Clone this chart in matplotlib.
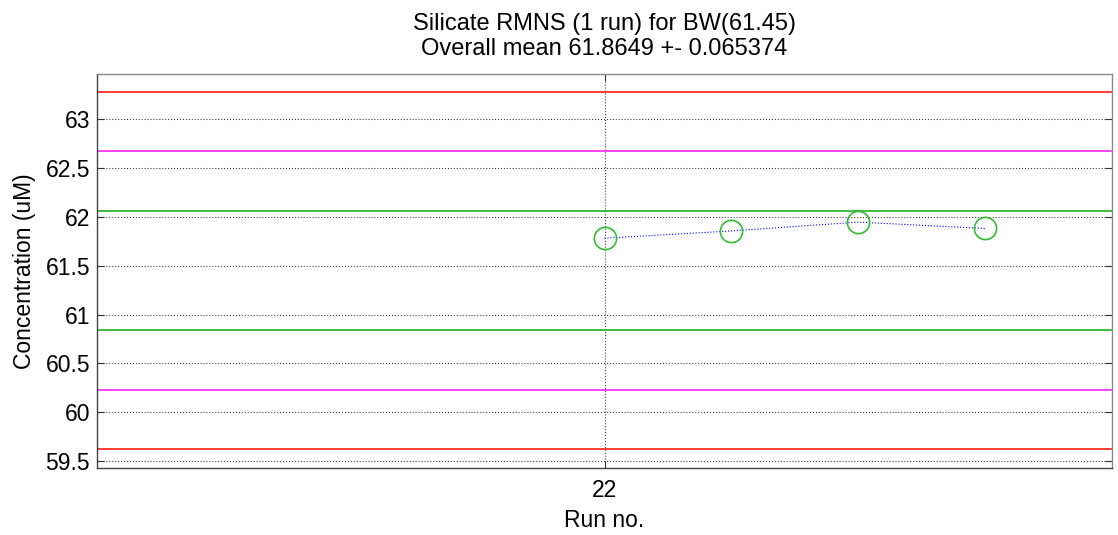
import matplotlib
matplotlib.use("Agg")
import matplotlib.pyplot as plt

plt.rcParams['font.family'] = ['Liberation Sans', 'DejaVu Sans']

# Sample positions within run 22 and measured silicate concentrations
run_positions = [22.0, 22.25, 22.5, 22.75]
concentrations = [61.78, 61.855, 61.945, 61.88]

# Reference value and control limits
reference = 61.45
limit_offsets = [0.61, 1.22, 1.83]
limit_colors = ['#2db82d', '#ff33ff', '#ff2a2a']

y_ticks = [59.5, 60, 60.5, 61, 61.5, 62, 62.5, 63]
x_ticks = [22]

FS = 16.5

fig = plt.figure(figsize=(11.18, 5.35), dpi=100)
ax = fig.add_axes([0.0868, 0.1252, 0.9078, 0.7365])

for off, col in zip(limit_offsets, limit_colors):
    ax.axhline(reference + off, color=col, lw=1.3, zorder=2)
    ax.axhline(reference - off, color=col, lw=1.3, zorder=2)

ax.plot(run_positions, concentrations, color='blue', ls=':', lw=0.8, zorder=3)
ax.plot(run_positions, concentrations, ls='none', marker='o', ms=16,
        mfc='none', mec='#33bb33', mew=1.2, zorder=4)

ax.set_xlim(21, 23)
ax.set_ylim(59.43, 63.46)
ax.set_yticks(y_ticks)
ax.set_yticklabels([f"{v:g}" for v in y_ticks])
ax.set_xticks(x_ticks)
ax.set_xticklabels([str(v) for v in x_ticks])

ax.grid(True, color='black', ls=':', lw=0.8, alpha=0.75)
ax.tick_params(direction='in', length=5, labelsize=FS, color='#333333',
               right=True, top=True)
ax.tick_params(axis='y', pad=5)
ax.tick_params(axis='x', pad=8)
for side, sp in ax.spines.items():
    sp.set_linewidth(1.0)
    sp.set_color('#444444' if side in ('left', 'bottom') else '#8a8a8a')

ax.set_xlabel('Run no.', fontsize=FS, labelpad=5)
ax.set_ylabel('Concentration (uM)', fontsize=FS, labelpad=7)
ax.set_title('Silicate RMNS (1 run) for BW(61.45)\nOverall mean 61.8649 +- 0.065374',
             fontsize=17, pad=14, linespacing=1.15)

fig.savefig('out.png', dpi=100)
